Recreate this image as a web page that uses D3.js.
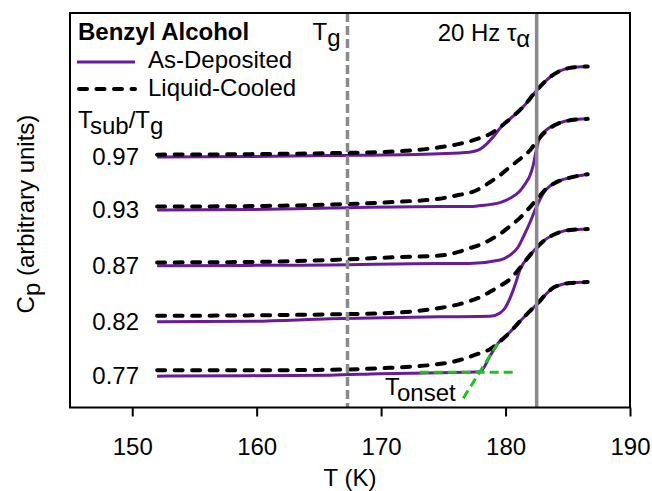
<!DOCTYPE html>
<html lang="en">
  <head>
    <meta charset="UTF-8" />
    <script src="https://cdnjs.cloudflare.com/ajax/libs/d3/7.8.5/d3.min.js"></script>
    <title>Benzyl Alcohol Cp</title>
    <style>
      body {
        margin: 0;
        background: white;
      }
      text {
        font-family: "Liberation Sans", Arial, sans-serif;
        font-size: 24px;
        fill: black;
      }
      .ad {
        fill: none;
        stroke: #6a1b9a;
        stroke-width: 3;
      }
      .lc {
        fill: none;
        stroke: black;
        stroke-width: 4;
        stroke-dasharray: 8 9.5;
        stroke-linecap: round;
      }
    </style>
  </head>
  <body>
    <script>
      // substrate temperature ratios, top to bottom
      const ratios = ["0.97", "0.93", "0.87", "0.82", "0.77"];

      // [T (K), Cp (arb.)]
      const ad097 = [[152, 5.06], [159.5, 5.07], [165.9, 5.09], [174.7, 5.13], [177.1, 5.16], [177.8, 5.2], [178.4, 5.31], [179.0, 5.47], [179.55, 5.65], [180.36, 5.84], [181.4, 6.08], [182.53, 6.43], [183.57, 6.69], [184.38, 6.82], [185.18, 6.88], [186.6, 6.91]];
      const lc097 = [[152, 5.11], [159.5, 5.12], [165.9, 5.14], [171.5, 5.18], [174.7, 5.26], [176.3, 5.33], [177.1, 5.38], [177.95, 5.45], [178.75, 5.53], [179.55, 5.67], [180.36, 5.84], [181.4, 6.08], [182.53, 6.43], [183.57, 6.69], [184.38, 6.82], [185.18, 6.88], [186.6, 6.91]];

      const ad093 = [[152, 3.98], [159.5, 3.99], [165.9, 4.02], [174.7, 4.05], [177.1, 4.05], [177.95, 4.07], [179.55, 4.13], [180.36, 4.22], [181.16, 4.37], [181.57, 4.51], [181.97, 4.69], [182.21, 4.88], [182.37, 5.08], [182.53, 5.27], [182.77, 5.47], [183.17, 5.59], [183.57, 5.67], [184.38, 5.76], [185.18, 5.81], [186.6, 5.84]];
      const lc093 = [[152, 4.05], [159.5, 4.06], [165.9, 4.09], [171.5, 4.15], [174.7, 4.21], [176.3, 4.29], [177.1, 4.33], [177.95, 4.42], [178.75, 4.55], [179.55, 4.69], [180.36, 4.86], [181.16, 5.02], [181.97, 5.2], [182.53, 5.39], [183.17, 5.57], [183.57, 5.65], [184.38, 5.76], [185.18, 5.81], [186.6, 5.84]];

      const ad087 = [[152, 2.84], [159.5, 2.85], [165.9, 2.86], [174.7, 2.89], [177.1, 2.89], [179.55, 2.96], [180.36, 3.06], [181.0, 3.22], [181.5, 3.47], [181.97, 3.73], [182.37, 3.98], [182.77, 4.2], [183.17, 4.37], [183.57, 4.47], [184.38, 4.58], [185.18, 4.64], [186.6, 4.71]];
      const lc087 = [[152, 2.91], [159.5, 2.92], [165.9, 2.96], [171.5, 3.02], [174.7, 3.05], [176.3, 3.13], [177.1, 3.2], [177.95, 3.27], [178.75, 3.37], [179.55, 3.49], [180.36, 3.65], [181.16, 3.82], [181.97, 4.04], [182.53, 4.2], [183.17, 4.39], [183.57, 4.47], [184.38, 4.58], [185.18, 4.64], [186.6, 4.71]];

      const ad082 = [[152, 1.7], [159.5, 1.71], [165.9, 1.76], [174.7, 1.8], [178.75, 1.81], [179.55, 1.88], [179.96, 1.98], [180.36, 2.18], [180.76, 2.45], [181.16, 2.76], [181.97, 3.06], [182.53, 3.22], [183.17, 3.37], [183.81, 3.47], [184.38, 3.53], [185.18, 3.57], [186.6, 3.59]];
      const lc082 = [[152, 1.82], [159.5, 1.83], [165.9, 1.85], [169.9, 1.87], [174.7, 1.98], [176.3, 2.06], [177.1, 2.12], [177.95, 2.2], [178.75, 2.31], [179.55, 2.43], [180.36, 2.57], [181.16, 2.8], [181.97, 3.06], [182.53, 3.22], [183.17, 3.37], [183.81, 3.47], [184.38, 3.53], [185.18, 3.57], [186.6, 3.59]];

      const ad077 = [[152, 0.59], [159.5, 0.6], [165.9, 0.61], [169.9, 0.64], [174.7, 0.66], [177.95, 0.68], [178.75, 1.0], [179.39, 1.26], [180.36, 1.49], [181.16, 1.71], [181.97, 1.92], [182.53, 2.06], [183.17, 2.24], [183.81, 2.39], [184.38, 2.45], [185.18, 2.49], [186.6, 2.51]];
      const lc077 = [[152, 0.71], [159.5, 0.71], [165.9, 0.72], [169.9, 0.75], [175.3, 0.86], [176.34, 0.92], [177.95, 1.06], [178.75, 1.14], [179.39, 1.26], [180.36, 1.49], [181.16, 1.71], [181.97, 1.92], [182.53, 2.06], [183.17, 2.24], [183.81, 2.39], [184.38, 2.45], [185.18, 2.49], [186.6, 2.51]];

      const asDeposited = [ad097, ad093, ad087, ad082, ad077];
      const liquidCooled = [lc097, lc093, lc087, lc082, lc077];

      // onset construction on the 0.77 curve
      const onsetBase = [[173.1, 0.67], [180.9, 0.67]];
      const onsetTangent = [[176.6, 0.14], [179.4, 1.27]];

      const Tg = 167.3;
      const tauAlpha = 182.5;
      const xTicks = [150, 160, 170, 180, 190];

      const svg = d3
        .select("body")
        .append("svg")
        .attr("width", 652)
        .attr("height", 491);

      const x = d3.scaleLinear().domain([145, 190]).range([70, 630]);
      const y = d3.scaleLinear().domain([-0.05, 8]).range([407.5, 13]);

      const line = d3
        .line()
        .x((d) => x(d[0]))
        .y((d) => y(d[1]))
        .curve(d3.curveMonotoneX);

      // curves
      svg
        .append("g")
        .selectAll("path")
        .data(asDeposited)
        .enter()
        .append("path")
        .attr("class", "ad")
        .attr("d", line);

      svg
        .append("g")
        .selectAll("path")
        .data(liquidCooled)
        .enter()
        .append("path")
        .attr("class", "lc")
        .attr("d", line);

      // onset lines
      const straight = d3
        .line()
        .x((d) => x(d[0]))
        .y((d) => y(d[1]));
      svg
        .append("g")
        .selectAll("path")
        .data([onsetBase, onsetTangent])
        .enter()
        .append("path")
        .attr("d", straight)
        .attr("fill", "none")
        .attr("stroke", "#1ec31e")
        .attr("stroke-width", 3)
        .attr("stroke-dasharray", "9 5");

      // Tg and tau_alpha markers
      svg
        .append("line")
        .attr("x1", x(Tg))
        .attr("x2", x(Tg))
        .attr("y1", y.range()[1])
        .attr("y2", y.range()[0])
        .attr("stroke", "#8a8a8a")
        .attr("stroke-width", 3.5)
        .attr("stroke-dasharray", "9 4");

      svg
        .append("line")
        .attr("x1", x(tauAlpha))
        .attr("x2", x(tauAlpha))
        .attr("y1", y.range()[1])
        .attr("y2", y.range()[0])
        .attr("stroke", "#8a8a8a")
        .attr("stroke-width", 3.5);

      // frame
      svg
        .append("rect")
        .attr("x", x.range()[0])
        .attr("y", y.range()[1])
        .attr("width", x.range()[1] - x.range()[0])
        .attr("height", y.range()[0] - y.range()[1])
        .attr("fill", "none")
        .attr("stroke", "black")
        .attr("stroke-width", 2);

      // x axis
      const xAxis = svg
        .append("g")
        .attr("transform", `translate(0,${y.range()[0]})`)
        .call(d3.axisBottom(x).tickValues(xTicks).tickSize(9).tickSizeOuter(0));
      xAxis.select(".domain").remove();
      xAxis.selectAll("line").attr("stroke", "black").attr("stroke-width", 2);
      xAxis
        .selectAll("text")
        .attr("y", 47)
        .attr("dy", null)
        .attr("font-size", 24)
        .attr("font-family", null);

      svg
        .append("text")
        .attr("x", (x.range()[0] + x.range()[1]) / 2)
        .attr("y", 486)
        .attr("text-anchor", "middle")
        .text("T (K)");

      // y title
      const yTitle = svg
        .append("text")
        .attr("transform", "translate(34,214) rotate(-90)")
        .attr("text-anchor", "middle");
      yTitle.append("tspan").text("C");
      yTitle.append("tspan").attr("dy", 6).text("p");
      yTitle.append("tspan").attr("dy", -6).text(" (arbitrary units)");

      // ratio labels
      svg
        .append("g")
        .selectAll("text")
        .data(ratios)
        .enter()
        .append("text")
        .attr("x", 139)
        .attr("y", (d, i) => y(asDeposited[i][0][1]) + 8)
        .attr("text-anchor", "end")
        .text((d) => d);

      const ratioTitle = svg.append("text").attr("x", 78).attr("y", 128);
      ratioTitle.append("tspan").text("T");
      ratioTitle.append("tspan").attr("dy", 6).text("sub");
      ratioTitle.append("tspan").attr("dy", -6).text("/T");
      ratioTitle.append("tspan").attr("dy", 6).text("g");

      // legend
      svg
        .append("text")
        .attr("x", 78)
        .attr("y", 40)
        .attr("font-weight", "bold")
        .text("Benzyl Alcohol");

      svg
        .append("line")
        .attr("class", "ad")
        .attr("x1", 77)
        .attr("x2", 135)
        .attr("y1", 62)
        .attr("y2", 62);
      svg.append("text").attr("x", 148).attr("y", 68).text("As-Deposited");

      svg
        .append("line")
        .attr("class", "lc")
        .attr("x1", 79)
        .attr("x2", 135)
        .attr("y1", 89)
        .attr("y2", 89);
      svg.append("text").attr("x", 148).attr("y", 96).text("Liquid-Cooled");

      // annotations
      const tgLabel = svg.append("text").attr("x", x(Tg) - 35).attr("y", 40);
      tgLabel.append("tspan").text("T");
      tgLabel.append("tspan").attr("dy", 6).text("g");

      const tauLabel = svg
        .append("text")
        .attr("x", x(tauAlpha) - 99)
        .attr("y", 41);
      tauLabel.append("tspan").text("20 Hz \u03C4");
      tauLabel.append("tspan").attr("dy", 6).text("\u03B1");

      const onsetLabel = svg.append("text").attr("x", 385).attr("y", 395);
      onsetLabel.append("tspan").text("T");
      onsetLabel.append("tspan").attr("dy", 6).text("onset");
    </script>
  </body>
</html>
